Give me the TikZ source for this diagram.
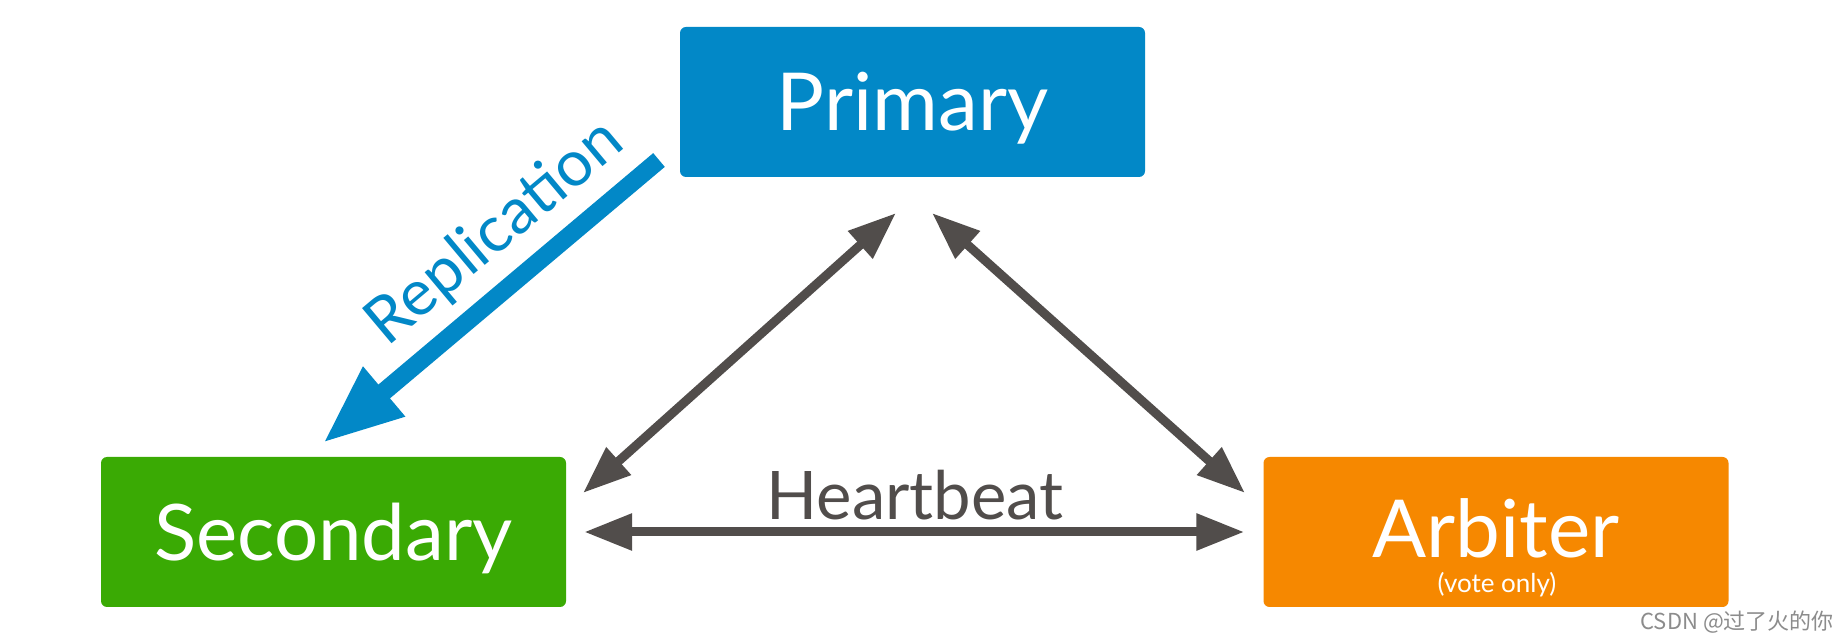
\documentclass[tikz,border=0pt]{standalone}
\usepackage{fontspec}
\setmainfont{Lato}
\newfontfamily\cjkfont{Noto Sans CJK SC}
\usetikzlibrary{arrows.meta,calc}
\definecolor{priblue}{HTML}{0288C7}
\definecolor{secgreen}{HTML}{3AAA04}
\definecolor{arborange}{HTML}{F68800}
\definecolor{arrowgray}{HTML}{514D4B}
\definecolor{markgray}{HTML}{8C8C8C}
\tikzset{
  box/.style={rectangle, rounded corners=6pt, draw=none, text=white,
    minimum width=465pt, minimum height=150pt, inner sep=0pt,
    font=\fontsize{80}{80}\selectfont, text height=58pt, text depth=0pt},
  hb/.style={draw=arrowgray, line width=9pt,
    {Triangle[length=48pt,width=35pt]}-{Triangle[length=48pt,width=35pt]}},
  rep/.style={draw=priblue, line width=18pt, -{Triangle[length=80pt,width=60pt]}},
  lbl/.style={text=arrowgray, font=\fontsize{67}{67}\selectfont, inner sep=0pt}
}
\begin{document}
\begin{tikzpicture}[x=1pt,y=1pt]
\useasboundingbox (0,0) rectangle (1848,640);
\fill[white] (0,0) rectangle (1848,640);
\node[box, fill=priblue] (pri) at (912.5,538) {Primary};
\node[box, fill=secgreen, font=\fontsize{78}{78}\selectfont] (sec) at (333.5,108) {Secondary};
\node[box, fill=arborange, text depth=6pt] (arb) at (1496,108) {Arbiter};
\node[text=white, font=\fontsize{26}{26}\selectfont, anchor=base, inner sep=0pt] (vote) at (1497,47) {(vote only)};
% connector end points
\coordinate (repA) at (659,480);
\coordinate (repB) at (323,197);
\coordinate (psA) at (896,427);
\coordinate (psB) at (583,147);
\coordinate (paA) at (932,427);
\coordinate (paB) at (1245,147);
% replication
\draw[rep] (repA) -- (repB);
\node[text=priblue, font=\fontsize{64}{64}\selectfont, anchor=base, rotate=40, inner sep=0pt] (replbl) at (507,393) {Replication};
% heartbeat arrows
\draw[hb] (psA) -- (psB);
\draw[hb] (paA) -- (paB);
\draw[hb, shorten <=18pt, shorten >=19pt] (sec.east) -- (arb.west);
\node[lbl, anchor=base] (hblbl) at (915,120) {Heartbeat};
% watermark text
\node[text=markgray, font=\cjkfont\fontsize{22}{22}\selectfont, anchor=base east, inner sep=0pt] (csdn) at (1834,10) {CSDN @过了火的你};
\end{tikzpicture}
\end{document}
